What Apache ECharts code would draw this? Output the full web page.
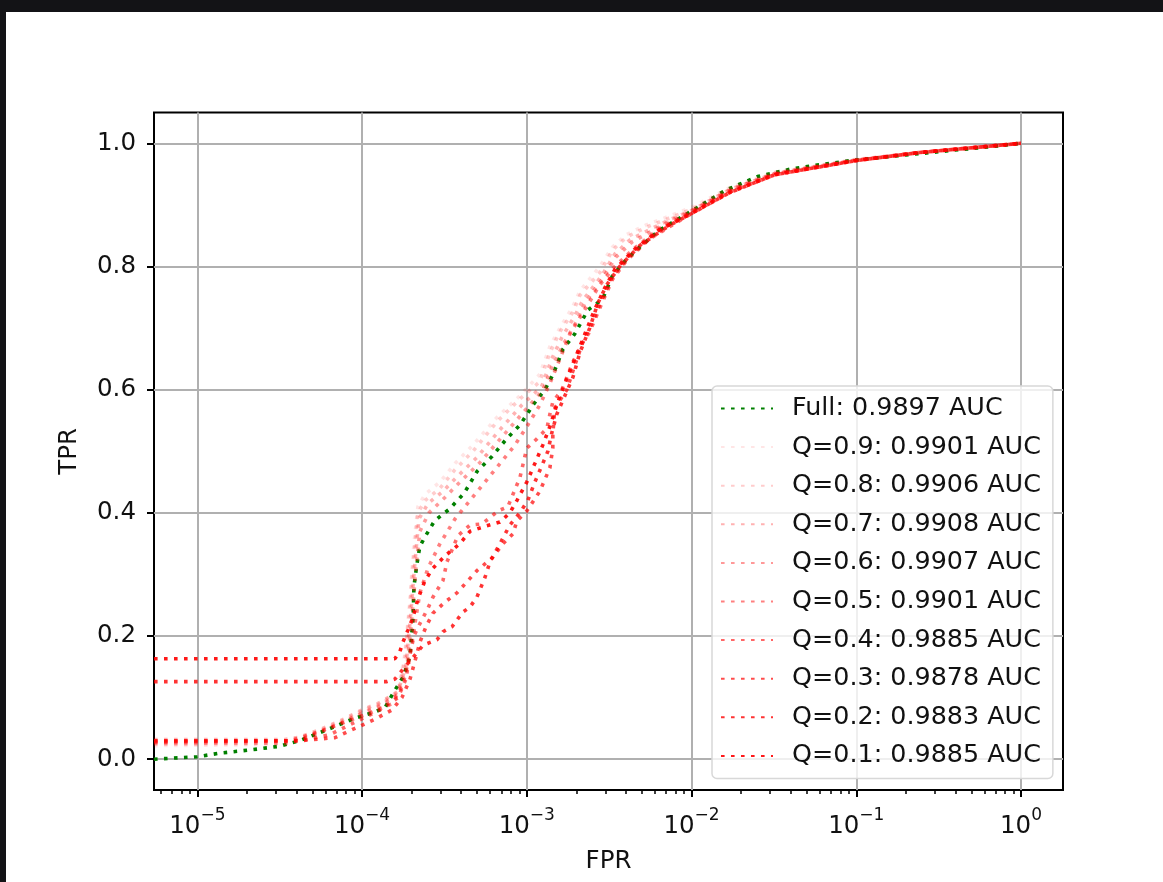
<!DOCTYPE html>
<html>
<head>
<meta charset="utf-8">
<script src="https://cdn.jsdelivr.net/npm/echarts@6/dist/echarts.min.js"></script>
<style>
  html, body { margin: 0; padding: 0; background: #131316; }
  #chart { position: absolute; left: 6px; top: 12px; width: 1157px; height: 870px; background: #fff; }
</style>
</head>
<body>
<div id="chart"></div>
<script>
// x values are log10(FPR), y values are TPR
const full = [[-5.263,0.0],[-5.0,0.004],[-4.86,0.01],[-4.68,0.015],[-4.5,0.021],[-4.38,0.03],[-4.21,0.048],[-4.05,0.066],[-3.93,0.076],[-3.86,0.084],[-3.81,0.108],[-3.75,0.134],[-3.71,0.166],[-3.69,0.23],[-3.685,0.28],[-3.67,0.311],[-3.65,0.345],[-3.62,0.36],[-3.56,0.387],[-3.47,0.406],[-3.38,0.432],[-3.30,0.468],[-3.21,0.492],[-3.12,0.521],[-3.04,0.543],[-2.96,0.576],[-2.89,0.60],[-2.84,0.625],[-2.78,0.666],[-2.71,0.69],[-2.63,0.729],[-2.54,0.747],[-2.48,0.785],[-2.4,0.81],[-2.3,0.835],[-2.2,0.858],[-2.1,0.874],[-2.0,0.89],[-1.8,0.923],[-1.6,0.946],[-1.4,0.958],[-1.2,0.966],[-1.0,0.973],[-0.7,0.981],[-0.4,0.989],[-0.2,0.994],[0,1.0]];

const q09 = [[-5.263,0.022],[-4.468,0.024],[-4.377,0.03],[-4.256,0.042],[-4.134,0.058],[-4.001,0.075],[-3.891,0.088],[-3.782,0.11],[-3.740,0.17],[-3.709,0.26],[-3.685,0.35],[-3.661,0.41],[-3.618,0.43],[-3.527,0.45],[-3.436,0.48],[-3.327,0.51],[-3.181,0.555],[-3.042,0.59],[-2.921,0.625],[-2.860,0.67],[-2.799,0.70],[-2.720,0.735],[-2.678,0.76],[-2.557,0.80],[-2.478,0.832],[-2.393,0.852],[-2.272,0.868],[-2.132,0.882],[-2.0,0.896],[-1.768,0.928],[-1.495,0.953],[-1.0,0.974],[-0.617,0.985],[0,1]];
const q08 = [[-5.263,0.027],[-4.468,0.028],[-4.377,0.033],[-4.256,0.046],[-4.134,0.06],[-4.001,0.078],[-3.891,0.09],[-3.782,0.108],[-3.740,0.16],[-3.709,0.25],[-3.685,0.33],[-3.661,0.40],[-3.618,0.42],[-3.527,0.44],[-3.436,0.47],[-3.327,0.50],[-3.181,0.548],[-3.042,0.585],[-2.921,0.613],[-2.860,0.66],[-2.799,0.694],[-2.720,0.726],[-2.678,0.753],[-2.557,0.79],[-2.478,0.827],[-2.393,0.848],[-2.272,0.864],[-2.132,0.879],[-2.0,0.893],[-1.768,0.926],[-1.495,0.952],[-1.0,0.973],[-0.617,0.985],[0,1]];
const q07 = [[-5.263,0.032],[-4.468,0.032],[-4.377,0.036],[-4.256,0.048],[-4.134,0.062],[-4.001,0.08],[-3.891,0.092],[-3.782,0.11],[-3.734,0.15],[-3.703,0.24],[-3.679,0.32],[-3.655,0.39],[-3.600,0.415],[-3.509,0.435],[-3.418,0.46],[-3.303,0.49],[-3.163,0.535],[-3.03,0.575],[-2.91,0.605],[-2.848,0.65],[-2.787,0.685],[-2.708,0.72],[-2.66,0.745],[-2.545,0.785],[-2.466,0.82],[-2.375,0.843],[-2.254,0.86],[-2.132,0.876],[-2.0,0.891],[-1.768,0.925],[-1.495,0.951],[-1.0,0.973],[-0.617,0.985],[0,1]];
const q06 = [[-5.263,0.025],[-4.468,0.026],[-4.377,0.031],[-4.256,0.044],[-4.134,0.058],[-4.001,0.074],[-3.891,0.086],[-3.782,0.105],[-3.728,0.15],[-3.697,0.23],[-3.673,0.31],[-3.649,0.37],[-3.594,0.40],[-3.497,0.425],[-3.406,0.45],[-3.29,0.48],[-3.145,0.525],[-3.015,0.565],[-2.9,0.6],[-2.842,0.64],[-2.775,0.675],[-2.7,0.71],[-2.648,0.74],[-2.54,0.78],[-2.46,0.815],[-2.36,0.84],[-2.245,0.857],[-2.13,0.874],[-2.0,0.89],[-1.768,0.924],[-1.495,0.951],[-1.0,0.973],[-0.617,0.985],[0,1]];
const q05 = [[-5.263,0.03],[-4.437,0.03],[-4.256,0.045],[-4.104,0.06],[-3.952,0.075],[-3.818,0.09],[-3.752,0.12],[-3.709,0.17],[-3.679,0.22],[-3.649,0.27],[-3.600,0.31],[-3.527,0.35],[-3.436,0.39],[-3.345,0.42],[-3.254,0.45],[-3.163,0.48],[-3.072,0.51],[-3.0,0.54],[-2.921,0.575],[-2.86,0.61],[-2.799,0.65],[-2.739,0.69],[-2.648,0.73],[-2.557,0.77],[-2.466,0.8],[-2.345,0.83],[-2.193,0.862],[-2.0,0.889],[-1.768,0.923],[-1.495,0.95],[-1.0,0.972],[-0.617,0.985],[0,1]];
const q04 = [[-5.263,0.028],[-4.377,0.03],[-4.195,0.04],[-4.043,0.06],[-3.891,0.08],[-3.782,0.10],[-3.734,0.13],[-3.709,0.17],[-3.685,0.20],[-3.649,0.22],[-3.600,0.245],[-3.570,0.263],[-3.509,0.29],[-3.485,0.32],[-3.418,0.363],[-3.345,0.38],[-3.272,0.382],[-3.224,0.392],[-3.175,0.403],[-3.115,0.41],[-3.084,0.43],[-3.042,0.457],[-3.0,0.505],[-2.939,0.52],[-2.878,0.537],[-2.86,0.56],[-2.842,0.58],[-2.787,0.60],[-2.72,0.645],[-2.66,0.677],[-2.618,0.694],[-2.545,0.74],[-2.478,0.78],[-2.393,0.81],[-2.254,0.845],[-2.0,0.886],[-1.768,0.921],[-1.495,0.949],[-1.0,0.972],[-0.617,0.985],[0,1]];
const q03 = [[-5.263,0.03],[-4.377,0.03],[-4.164,0.035],[-4.043,0.05],[-3.922,0.065],[-3.818,0.08],[-3.758,0.10],[-3.709,0.13],[-3.673,0.165],[-3.649,0.19],[-3.612,0.215],[-3.570,0.237],[-3.497,0.255],[-3.424,0.27],[-3.303,0.306],[-3.206,0.328],[-3.145,0.35],[-3.084,0.366],[-3.06,0.387],[-3.0,0.403],[-2.921,0.435],[-2.86,0.473],[-2.842,0.505],[-2.842,0.527],[-2.83,0.57],[-2.757,0.60],[-2.708,0.64],[-2.66,0.677],[-2.6,0.71],[-2.545,0.747],[-2.478,0.785],[-2.375,0.818],[-2.235,0.85],[-2.132,0.868],[-2.0,0.887],[-1.768,0.921],[-1.495,0.949],[-1.0,0.972],[-0.617,0.985],[0,1]];
const q02 = [[-5.263,0.126],[-3.849,0.126],[-3.801,0.13],[-3.74,0.15],[-3.691,0.165],[-3.661,0.175],[-3.63,0.185],[-3.545,0.194],[-3.509,0.207],[-3.454,0.215],[-3.424,0.226],[-3.388,0.239],[-3.345,0.247],[-3.303,0.263],[-3.254,0.295],[-3.224,0.32],[-3.163,0.35],[-3.103,0.38],[-3.042,0.40],[-2.994,0.42],[-2.951,0.45],[-2.903,0.48],[-2.872,0.5],[-2.848,0.53],[-2.818,0.56],[-2.769,0.59],[-2.72,0.62],[-2.678,0.66],[-2.618,0.70],[-2.569,0.74],[-2.515,0.77],[-2.436,0.80],[-2.314,0.834],[-2.132,0.867],[-2.0,0.886],[-1.768,0.92],[-1.495,0.949],[-1.0,0.972],[-0.617,0.985],[0,1]];
const q01 = [[-5.263,0.163],[-3.801,0.163],[-3.77,0.175],[-3.752,0.19],[-3.721,0.21],[-3.691,0.23],[-3.661,0.26],[-3.618,0.29],[-3.57,0.31],[-3.497,0.33],[-3.406,0.35],[-3.345,0.37],[-3.254,0.378],[-3.163,0.385],[-3.103,0.40],[-3.06,0.42],[-3.0,0.45],[-2.951,0.48],[-2.903,0.51],[-2.86,0.54],[-2.818,0.575],[-2.769,0.61],[-2.708,0.65],[-2.648,0.69],[-2.588,0.73],[-2.527,0.765],[-2.466,0.795],[-2.345,0.828],[-2.193,0.86],[-2.0,0.886],[-1.768,0.92],[-1.495,0.949],[-1.0,0.972],[-0.617,0.985],[0,1]];

const seriesNames = ['Full: 0.9897 AUC','Q=0.9: 0.9901 AUC','Q=0.8: 0.9906 AUC','Q=0.7: 0.9908 AUC','Q=0.6: 0.9907 AUC','Q=0.5: 0.9901 AUC','Q=0.4: 0.9885 AUC','Q=0.3: 0.9878 AUC','Q=0.2: 0.9883 AUC','Q=0.1: 0.9885 AUC'];
const seriesData = [full, q09, q08, q07, q06, q05, q04, q03, q02, q01];
const qValues = [null, 0.9, 0.8, 0.7, 0.6, 0.5, 0.4, 0.3, 0.2, 0.1];

const xMajor = [-5, -4, -3, -2, -1, 0];
const yMajor = [0, 0.2, 0.4, 0.6, 0.8, 1.0];

const X_MIN = -5.263, X_MAX = 0.255;
const FONT = 'DejaVu Sans';

// 对数坐标的次刻度位置
const xMinor = [];
for (let e = -6; e <= 0; e++) {
  for (let k = 2; k <= 9; k++) {
    const v = e + Math.log10(k);
    if (v > X_MIN && v < X_MAX) xMinor.push(v);
  }
}

const chart = echarts.init(document.getElementById('chart'));

const series = seriesData.map((d, i) => {
  const color = i === 0 ? '#008000' : 'rgba(255,0,0,' + (1 - qValues[i]).toFixed(1) + ')';
  return {
    name: seriesNames[i],
    type: 'line',
    data: d,
    symbol: 'none',
    showSymbol: false,
    animation: false,
    itemStyle: { color: color },
    lineStyle: { color: color, width: 3.6, type: [3.6, 6.4], cap: 'butt' },
    emphasis: { disabled: true }
  };
});

chart.setOption({
  animation: false,
  grid: {
    left: 148, right: 100, top: 100.5, bottom: 92,
    show: true, borderColor: '#000', borderWidth: 2, backgroundColor: 'transparent'
  },
  legend: {
    orient: 'vertical',
    left: 706, top: 374,
    padding: [10, 12, 10, 8],
    itemWidth: 52, itemHeight: 24, itemGap: 13.6,
    itemStyle: { opacity: 0, borderWidth: 0 },
    backgroundColor: 'rgba(255,255,255,0.8)',
    borderColor: '#d8d8d8', borderWidth: 1.5, borderRadius: 5,
    textStyle: { fontFamily: FONT, fontSize: 25.4, color: '#111', lineHeight: 24, padding: [0, 0, 0, 14] },
    data: seriesNames
  },
  xAxis: [
    {
      type: 'value', min: X_MIN, max: X_MAX,
      name: 'FPR', nameLocation: 'middle', nameGap: 59,
      nameTextStyle: { fontFamily: FONT, fontSize: 24.5, color: '#111' },
      axisLine: { show: false, onZero: false },
      axisTick: { show: true, customValues: xMajor, length: 7, lineStyle: { color: '#000', width: 2 } },
      axisLabel: {
        customValues: xMajor, margin: 17,
        formatter: v => '{b|10}{s|' + (v === 0 ? '0' : '\u2212' + Math.abs(v)) + '}',
        rich: {
          b: { fontFamily: FONT, fontSize: 24.5, color: '#111', lineHeight: 32, verticalAlign: 'bottom' },
          s: { fontFamily: FONT, fontSize: 17, color: '#111', lineHeight: 18, verticalAlign: 'top' }
        }
      },
      splitLine: { show: true, lineStyle: { color: '#b0b0b0', width: 2 } }
    },
    {
      type: 'value', min: X_MIN, max: X_MAX, position: 'bottom',
      axisLine: { show: false, onZero: false },
      axisTick: { show: true, customValues: xMinor, length: 4, lineStyle: { color: '#000', width: 1.5 } },
      axisLabel: { show: false },
      splitLine: { show: false }
    }
  ],
  yAxis: {
    type: 'value', min: -0.05, max: 1.05,
    name: 'TPR', nameLocation: 'middle', nameGap: 72,
    nameTextStyle: { fontFamily: FONT, fontSize: 24.5, color: '#111' },
    axisLine: { show: false, onZero: false },
    axisTick: { show: true, customValues: yMajor, length: 7, lineStyle: { color: '#000', width: 2 } },
    axisLabel: {
      customValues: yMajor, margin: 18,
      fontFamily: FONT, fontSize: 24.5, color: '#111',
      formatter: v => v.toFixed(1)
    },
    splitLine: { show: true, lineStyle: { color: '#b0b0b0', width: 2 } }
  },
  series: series
});
</script>
</body>
</html>
